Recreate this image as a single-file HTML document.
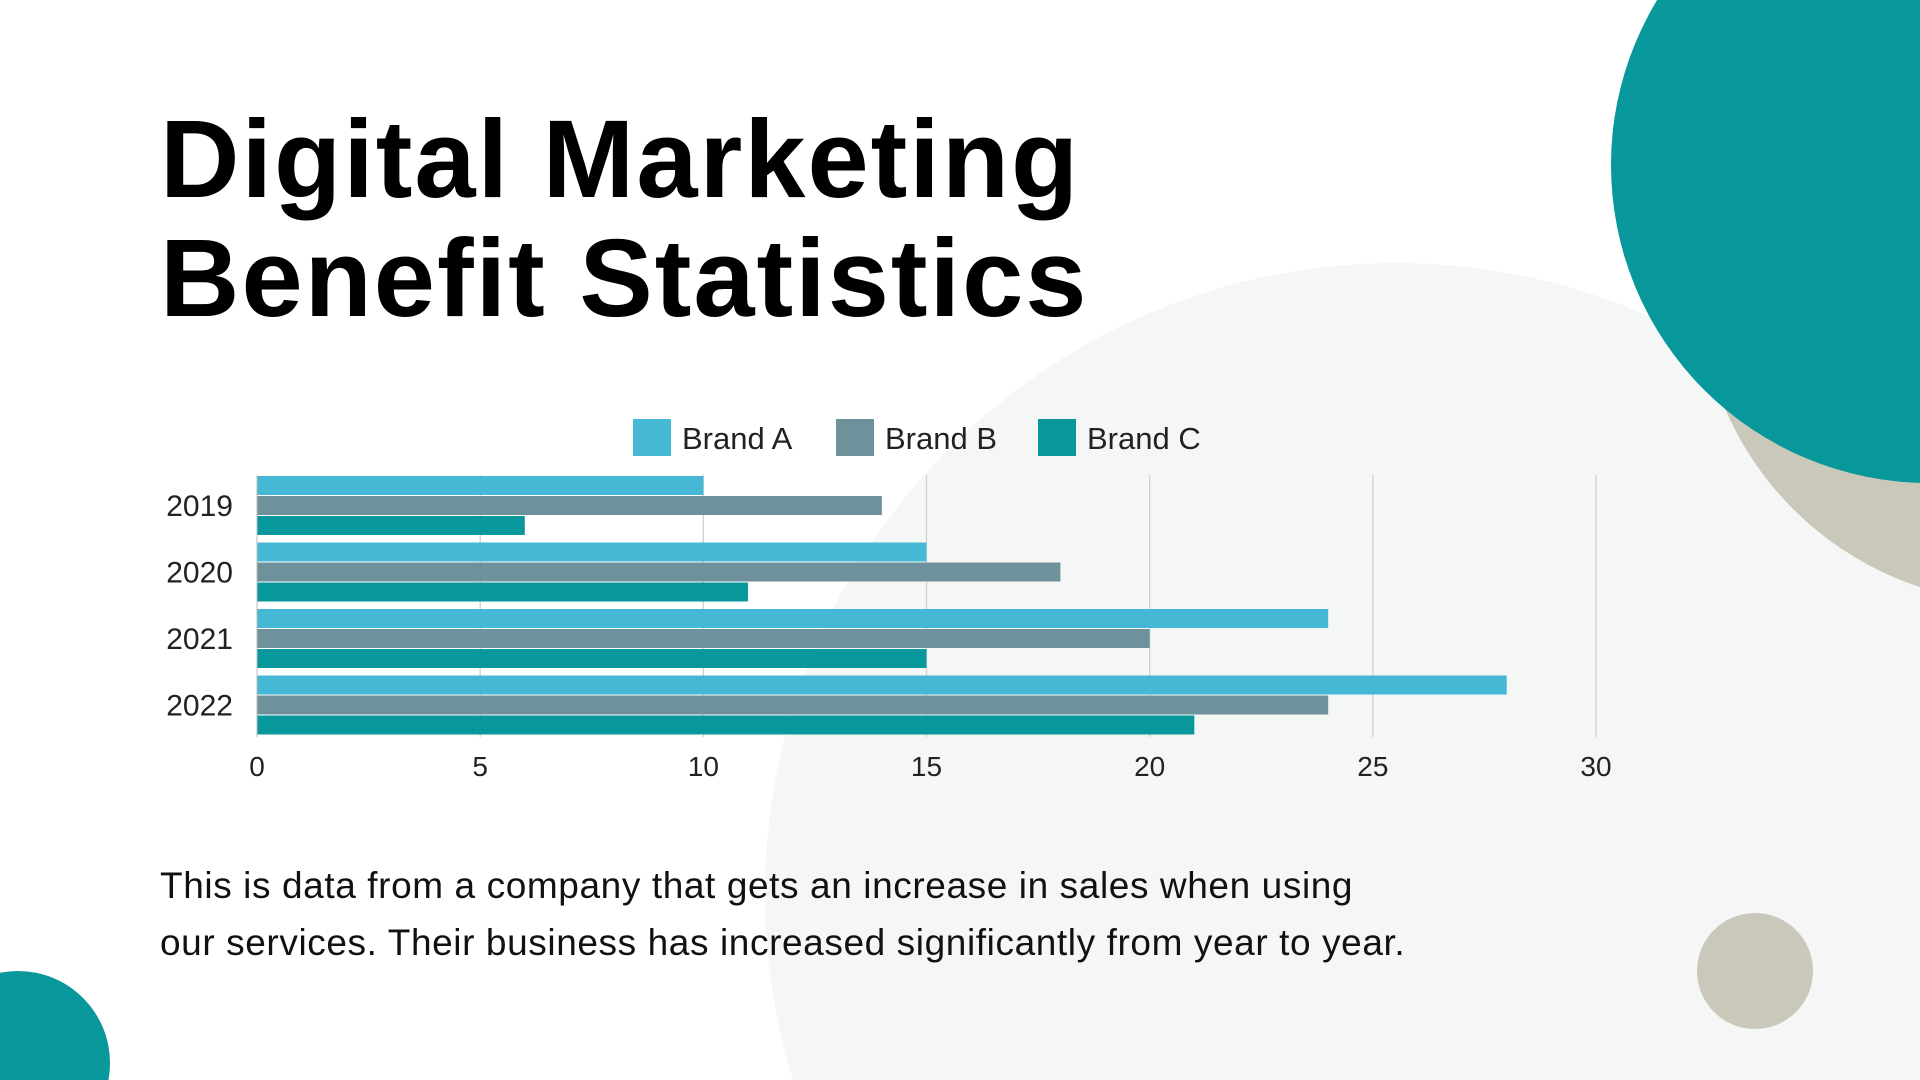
<!DOCTYPE html>
<html><head><meta charset="utf-8"><style>
html,body{margin:0;padding:0;width:1920px;height:1080px;overflow:hidden;background:#fff}
#wrap{position:relative;width:1920px;height:1080px;overflow:hidden;font-family:"Liberation Sans",sans-serif}
.c{position:absolute;border-radius:50%}
h1{position:absolute;left:160px;top:100px;margin:0;font-size:110px;line-height:119px;font-weight:bold;color:#000;letter-spacing:2px}
p{position:absolute;left:160px;top:857px;margin:0;font-size:37px;line-height:57px;color:#111;letter-spacing:0.6px}
svg{position:absolute;left:0;top:0}
</style></head><body>
<div id="wrap">
<div class="c" style="left:765px;top:263px;width:1262px;height:1262px;background:#F5F7F6"></div>
<div class="c" style="left:1699px;top:-39px;width:642px;height:642px;background:#C9C8BA"></div>
<div class="c" style="left:1611px;top:-153px;width:636px;height:636px;background:#08979A"></div>
<div class="c" style="left:1697px;top:913px;width:116px;height:116px;background:#C9C8BA"></div>
<div class="c" style="left:-74px;top:971px;width:184px;height:184px;background:#08979A"></div>
<h1>Digital Marketing<br>Benefit Statistics</h1>
<svg id="chart" width="1920" height="1080"></svg>
<p>This is data from a company that gets an increase in sales when using<br>our services. Their business has increased significantly from year to year.</p>
</div>
<script>
const categories=["2019","2020","2021","2022"];
const brandA=[10,15,24,28];
const brandB=[14,18,20,24];
const brandC=[6,11,15,21];
const ticks=[0,5,10,15,20,25,30];
const seriesNames=["Brand A","Brand B","Brand C"];
const colors=["#45B8D6","#6E919C","#08979A"];
const series=[brandA,brandB,brandC];
const NS="http://www.w3.org/2000/svg";
const svg=document.getElementById('chart');
const x0=257,x1=1596,plotTop=475,plotBottom=741;
const xs=v=>x0+(x1-x0)*v/30;
const pitch=(plotBottom-plotTop)/categories.length,bh=20;
function el(t,a){const e=document.createElementNS(NS,t);for(const k in a)e.setAttribute(k,a[k]);svg.appendChild(e);return e;}
ticks.forEach(t=>{
 if(t>0){const l=el('line',{x1:xs(t),x2:xs(t),y1:plotTop,y2:plotBottom-4,stroke:'#d0d0d0','stroke-width':1.3});
 
 }
 const tx=el('text',{x:xs(t),y:776,'font-size':28,'text-anchor':'middle',fill:'#222','font-family':'Liberation Sans'});
 tx.textContent=t;
 
 
});
categories.forEach((c,i)=>{
 const gy=plotTop+i*pitch+1;
 series.forEach((s,j)=>{
  const r=el('rect',{x:x0,y:gy+j*bh,width:xs(s[i])-x0,height:bh-1,fill:colors[j]});
  
  
 });
 const t=el('text',{x:233,y:gy+bh*1.5+10,'font-size':30,'text-anchor':'end',fill:'#222','font-family':'Liberation Sans'});
 t.textContent=c;
 
 
});
const ax=el('line',{x1:x0,x2:x0,y1:plotTop,y2:plotBottom-4,stroke:'#bbb','stroke-width':1});


const lx=[633,836,1038];
seriesNames.forEach((n,j)=>{
 const r=el('rect',{x:lx[j],y:419,width:38,height:37,fill:colors[j]});
 
 
 const t=el('text',{x:lx[j]+49,y:449,'font-size':31,fill:'#222','font-family':'Liberation Sans'});
 t.textContent=n;
 
 
});
</script>
</body></html>
